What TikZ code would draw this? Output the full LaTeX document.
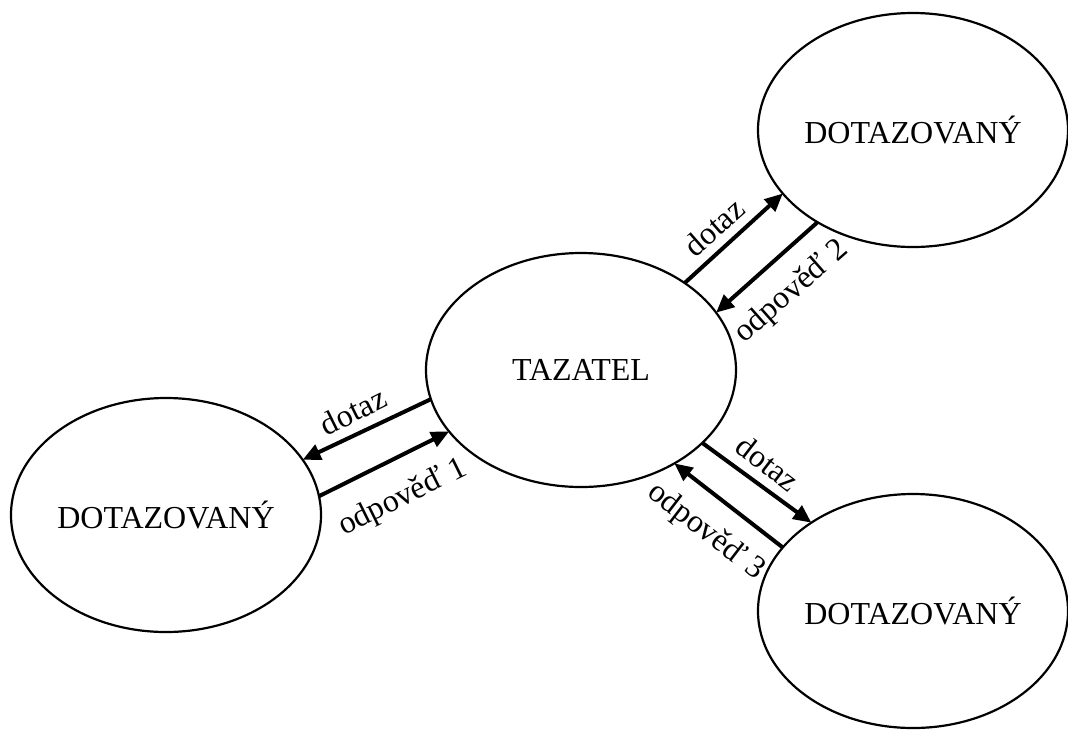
\documentclass[tikz,border=0pt]{standalone}
\usepackage{fontspec}
\setmainfont{Liberation Serif}
\usetikzlibrary{shapes.geometric,arrows.meta}
\begin{document}
\begin{tikzpicture}[x=1pt,y=-1pt,
  party/.style={ellipse,draw,line width=2.2pt,minimum width=310pt,minimum height=234pt,
    inner sep=0pt,outer sep=0pt,font=\fontsize{32}{38}\selectfont},
  msg/.style={line width=4pt,-{Triangle[length=18pt,width=16pt]}},
  lbl/.style={inner sep=0pt,font=\fontsize{32}{38}\selectfont}]
\useasboundingbox (0,0) rectangle (1068,729);

% participants
\node[party] (T)  at (581,370) {TAZATEL};
\node[party] (R1) at (913,130) {DOTAZOVANÝ};
\node[party] (L)  at (166,515) {DOTAZOVANÝ};
\node[party] (R3) at (913,611) {DOTAZOVANÝ};

% exchange with the upper right respondent
\draw[msg] (T.40.6) -- (R1.206.2);
\draw[msg] (R1.224.4) -- (T.23.5);
\node[lbl,rotate=41.3] (q2) at (714,227) {dotaz};
\node[lbl,rotate=41.3] (a2) at (792,292) {odpověď 2};

% exchange with the left respondent
\draw[msg] (T.191.1) -- (L.22.2);
\draw[msg] (L.7.2) -- (T.205.5);
\node[lbl,rotate=26.3] (q1) at (353,411) {dotaz};
\node[lbl,rotate=26.3] (a1) at (403,498) {odpověď 1};

% exchange with the lower right respondent
\draw[msg] (T.329.5) -- (R3.139.9);
\draw[msg] (R3.154.1) -- (T.315.6);
\node[lbl,rotate=-37.6] (q3) at (768,463) {dotaz};
\node[lbl,rotate=-37.6] (a3) at (706,532) {odpověď 3};
\end{tikzpicture}
\end{document}
